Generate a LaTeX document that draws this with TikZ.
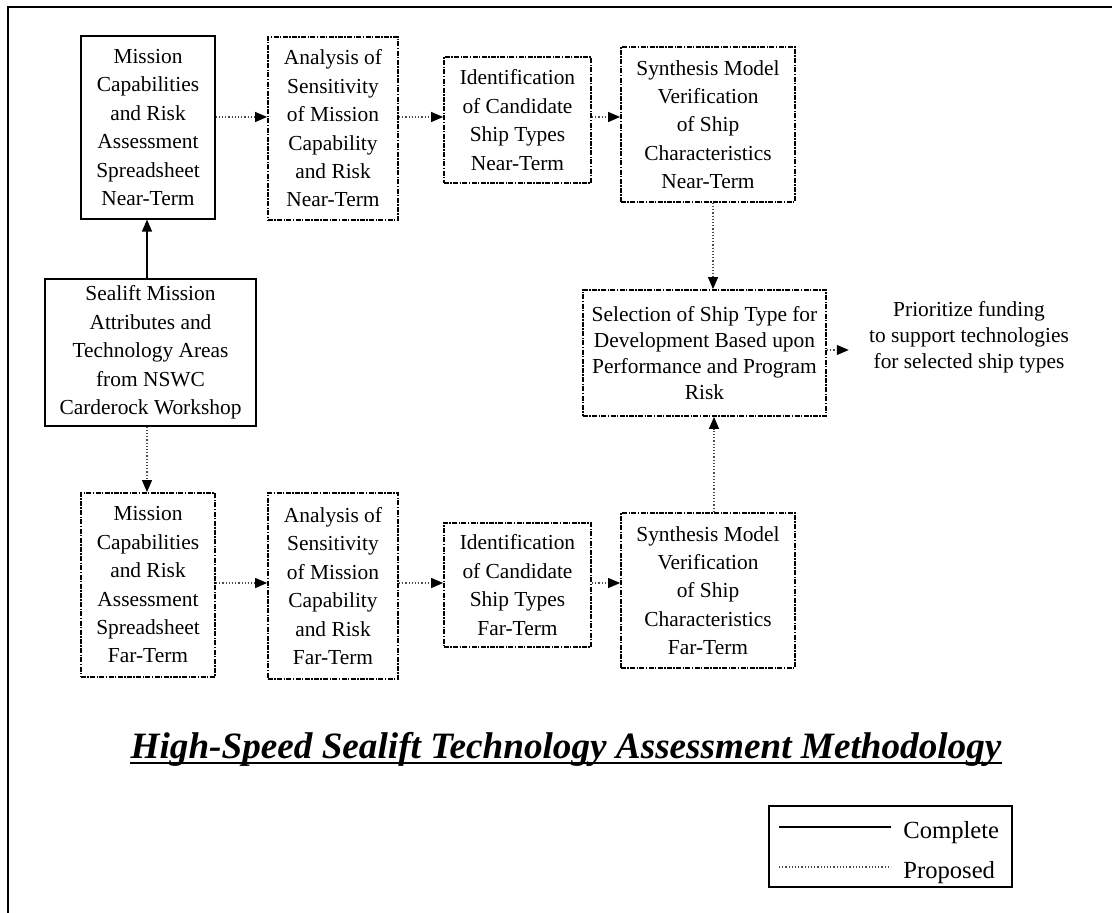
\documentclass[tikz,border=0pt]{standalone}
\usepackage{fontspec}
\setmainfont{Liberation Serif}
\usetikzlibrary{arrows.meta}

\begin{document}
\begin{tikzpicture}[x=0.5pt,y=-0.5pt,
  box/.style={draw=black,line width=0.6pt,inner sep=0pt,align=center,
    font=\fontsize{10.7}{14.2}\selectfont},
  planbox/.style={box,line width=0.9pt,dash pattern=on 2.5pt off 0.7pt on 0.7pt off 0.7pt},
  done/.style={draw=black,line width=0.6pt,-{Triangle[length=6pt,width=5pt]}},
  plan/.style={draw=black!70,line width=0.6pt,densely dotted,
    -{Triangle[length=6pt,width=5pt,color=black]}}]
  \useasboundingbox (0,0) rectangle (1112,913);
  \draw[line width=1pt] (8,913) -- (8,7) -- (1112,7);

  % Near-term row.
  \node[box,minimum width=67pt,minimum height=91.5pt] (msnear) at (148,127.5)
    {Mission\\Capabilities\\and Risk\\Assessment\\Spreadsheet\\Near-Term};
  \node[planbox,minimum width=65pt,minimum height=91.5pt] (annear) at (333,128.5)
    {Analysis of\\Sensitivity\\of Mission\\Capability\\and Risk\\Near-Term};
  \node[planbox,minimum width=73.5pt,minimum height=63pt] (idnear) at (517.5,120)
    {Identification\\of Candidate\\Ship Types\\Near-Term};
  \node[planbox,minimum width=87pt,minimum height=77.5pt] (synear) at (708,124.5)
    {Synthesis Model\\Verification\\of Ship\\Characteristics\\Near-Term};

  % Source and selection.
  \node[box,minimum width=105.5pt,minimum height=73.5pt] (source) at (150.5,352.5)
    {Sealift Mission\\Attributes and\\Technology Areas\\from NSWC\\Carderock Workshop};
  \node[planbox,minimum width=121.5pt,minimum height=63pt,
    font=\fontsize{10.7}{13}\selectfont] (select) at (704.5,353)
    {Selection of Ship Type for\\Development Based upon\\Performance and Program\\Risk};
  \node[align=center,inner sep=10pt,font=\fontsize{10.7}{13}\selectfont] (fund) at (969,337)
    {Prioritize funding\\to support technologies\\for selected ship types};

  % Far-term row.
  \node[planbox,minimum width=67pt,minimum height=92pt] (msfar) at (148,585)
    {Mission\\Capabilities\\and Risk\\Assessment\\Spreadsheet\\Far-Term};
  \node[planbox,minimum width=65pt,minimum height=93pt] (anfar) at (333,586)
    {Analysis of\\Sensitivity\\of Mission\\Capability\\and Risk\\Far-Term};
  \node[planbox,minimum width=73.5pt,minimum height=62pt] (idfar) at (517.5,585)
    {Identification\\of Candidate\\Ship Types\\Far-Term};
  \node[planbox,minimum width=87pt,minimum height=77.5pt] (syfar) at (708,590.5)
    {Synthesis Model\\Verification\\of Ship\\Characteristics\\Far-Term};

  % Connectors.
  \draw[done] (source.north -| 147,0) -- (msnear.south -| 147,0);
  \draw[plan] (source.south -| 147,0) -- (msfar.north -| 147,0);
  \draw[plan] (msnear.east |- 0,117) -- (annear.west |- 0,117);
  \draw[plan] (annear.east |- 0,117) -- (idnear.west |- 0,117);
  \draw[plan] (idnear.east |- 0,117) -- (synear.west |- 0,117);
  \draw[plan] (msfar.east |- 0,583) -- (anfar.west |- 0,583);
  \draw[plan] (anfar.east |- 0,583) -- (idfar.west |- 0,583);
  \draw[plan] (idfar.east |- 0,583) -- (syfar.west |- 0,583);
  \draw[plan] (synear.south -| 713,0) -- (select.north -| 713,0);
  \draw[plan] (syfar.north -| 714,0) -- (select.south -| 714,0);
  \draw[plan] (select.east |- 0,350) -- (fund.west |- 0,350);

  % Title.
  \node[anchor=base,inner sep=0pt,font=\fontsize{18.6}{22}\selectfont\bfseries\itshape]
    (title) at (566,758) {High-Speed Sealift Technology Assessment Methodology};
  \draw[line width=1.3pt] ([yshift=-2.5pt]title.base west) -- ([yshift=-2.5pt]title.base east);

  % Legend.
  \node[draw,line width=0.6pt,inner sep=0pt,minimum width=121.5pt,minimum height=40.5pt]
    (legend) at (890.5,846.5) {};
  \draw[line width=0.6pt] (779,827) -- (891,827);
  \draw[black!70,line width=0.6pt,densely dotted] (779,867) -- (891,867);
  \node[anchor=base west,inner sep=0pt,font=\fontsize{12.3}{14}\selectfont] (complete) at (903,838) {Complete};
  \node[anchor=base west,inner sep=0pt,font=\fontsize{12.3}{14}\selectfont] (proposed) at (903,878) {Proposed};
\end{tikzpicture}
\end{document}
